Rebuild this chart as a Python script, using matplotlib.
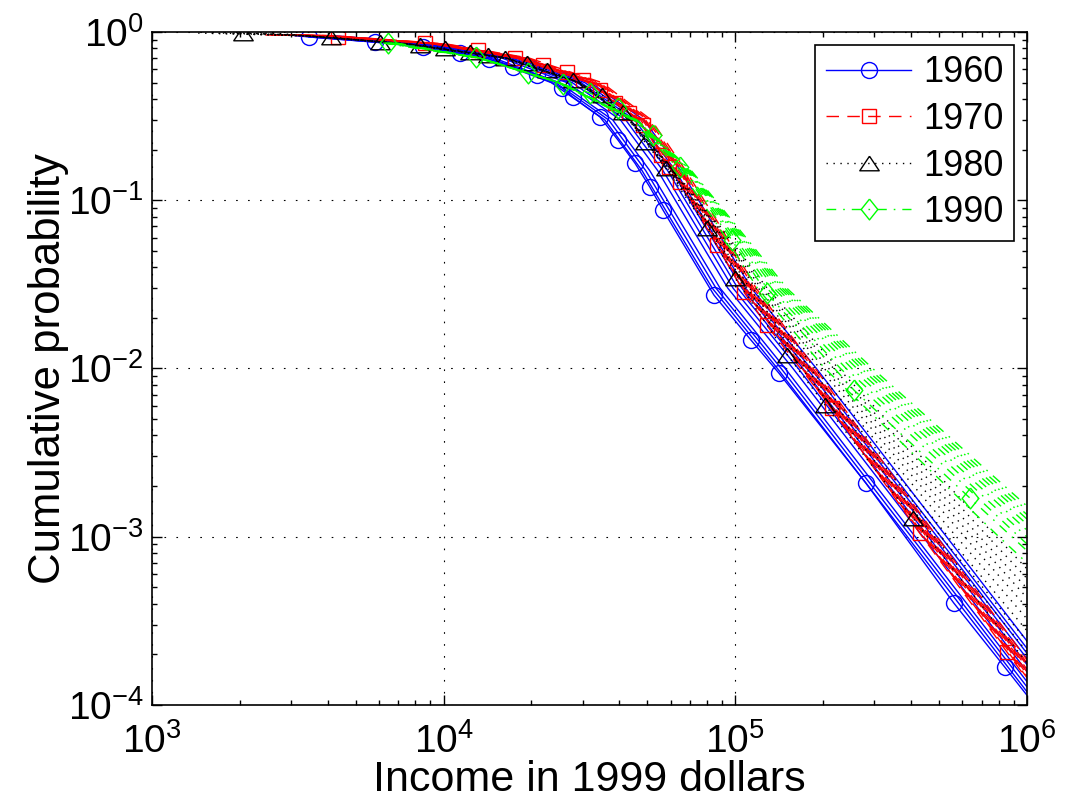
import matplotlib
matplotlib.use("Agg")
import matplotlib.pyplot as plt
from matplotlib.ticker import LogLocator, NullFormatter
import numpy as np

plt.rcParams['font.family'] = ['Liberation Sans', 'DejaVu Sans']
plt.rcParams['mathtext.fontset'] = 'custom'
plt.rcParams['mathtext.rm'] = 'Liberation Sans'
plt.rcParams['mathtext.it'] = 'Liberation Sans:italic'
plt.rcParams['mathtext.bf'] = 'Liberation Sans:bold'
plt.rcParams['lines.scale_dashes'] = False

# ---------------- data (incomes in thousands of 1999 dollars) ----------------
# marker curves (first year of each decade), read at the bracket points
x_1960 = [3.45, 5.81, 8.49, 11.37, 14.3, 17.3, 20.9, 25.44, 27.75, 34.33, 39.6, 45.3, 50.9,
          56.5, 84.5, 113, 141, 280, 561, 839, 1840]
p_1960 = [.934, .872, .814, .75, .69, .62, .555, .465, .41, .313, .228, .166, .12,
          .0875, .0273, .0148, .0094, .00209, 4.04e-4, 1.68e-4, 3e-5]

x_1970 = [4.34, 8.63, 13.12, 17.54, 21.88, 26.47, 30.08, 34.38, 38.66, 43.17, 48.22, 55.57,
          59.2, 64.5, 86.5, 107, 128, 214, 429, 853, 1930]
p_1970 = [.934, .86, .78, .70, .637, .578, .519, .452, .378, .330, .280, .186,
          .158, .128, .0542, .0285, .0181, .00582, .00105, 2.07e-4, 3e-5]

x_1980 = [2.05, 4.11, 6.05, 8.3, 10.09, 12.3, 14.2, 16.22, 19.3, 22.6, 27.75, 34.9, 41.2,
          48.97, 57.8, 80, 99.8, 151, 203, 406, 2250]
p_1980 = [.986, .934, .872, .837, .80, .76, .73, .70, .654, .596, .517, .422, .335,
          .222, .155, .0684, .0345, .012, .00607, .00129, 3e-5]

x_1990 = [6.44, 12.9, 19.45, 25.64, 31.76, 39.6, 52.2, 64.6, 97.3, 128, 255, 637, 3740]
p_1990 = [.86, .71, .571, .49, .434, .353, .244, .158, .058, .0281, .00745, .0017, 1e-4]

# remaining years: income at fixed cumulative-probability levels
levels_60 = [0.95, 0.85, 0.70, 0.50, 0.30, 0.15, 0.07, 0.03, 0.01, 1e-3, 1e-4, 3e-5]
inc_1961 = [3.09, 6.83, 14.00, 23.4, 35.7, 47.9, 62.2, 83.4, 139.4, 389, 1084, 1875]
inc_1962 = [3.18, 7.04, 14.43, 24.2, 36.8, 49.3, 64.1, 85.9, 143.6, 401, 1117, 1932]
inc_1963 = [3.28, 7.26, 14.89, 24.9, 38.0, 50.9, 66.2, 88.7, 148.3, 414, 1153, 1995]
inc_1964 = [3.49, 7.73, 15.84, 26.5, 40.4, 54.2, 70.4, 94.3, 157.7, 440, 1227, 2121]
inc_1965 = [3.64, 8.05, 16.52, 27.6, 42.1, 56.5, 73.4, 98.3, 164.4, 459, 1279, 2212]
inc_1966 = [3.78, 8.35, 17.13, 28.7, 43.7, 58.6, 76.2, 102.0, 170.6, 476, 1327, 2294]
inc_1967 = [3.90, 8.63, 17.70, 29.6, 45.2, 60.5, 78.7, 105.4, 176.2, 492, 1370, 2370]
inc_1968 = [4.02, 8.89, 18.23, 30.5, 46.5, 62.3, 81.0, 108.5, 181.5, 507, 1412, 2442]
inc_1969 = [4.20, 9.29, 19.06, 31.9, 48.6, 65.1, 84.7, 113.5, 189.7, 530, 1476, 2552]

levels_70 = [0.96, 0.95, 0.85, 0.70, 0.50, 0.30, 0.15, 0.07, 0.03, 0.01, 1e-3, 1e-4, 3e-5]
inc_1971 = [2.45, 3.80, 9.17, 17.72, 31.47, 46.49, 60.98, 80.1, 106.3, 169.6, 443, 1171, 1949]
inc_1972 = [2.55, 3.84, 9.26, 17.89, 31.78, 46.95, 61.59, 80.9, 107.3, 171.3, 447, 1182, 1969]
inc_1973 = [2.65, 3.87, 9.35, 18.07, 32.09, 47.41, 62.19, 81.7, 108.4, 172.9, 452, 1194, 1988]
inc_1974 = [2.75, 3.93, 9.49, 18.33, 32.56, 48.10, 63.10, 82.9, 109.9, 175.5, 458, 1211, 2017]
inc_1975 = [2.85, 3.99, 9.62, 18.59, 33.03, 48.79, 64.00, 84.1, 111.5, 178.0, 465, 1229, 2046]
inc_1976 = [2.95, 4.02, 9.72, 18.77, 33.34, 49.25, 64.61, 84.9, 112.6, 179.7, 469, 1240, 2065]
inc_1977 = [3.05, 4.08, 9.85, 19.03, 33.81, 49.94, 65.51, 86.0, 114.1, 182.2, 476, 1258, 2094]
inc_1978 = [3.15, 4.14, 9.99, 19.29, 34.28, 50.63, 66.42, 87.2, 115.7, 184.7, 483, 1275, 2123]
inc_1979 = [3.25, 4.21, 10.17, 19.64, 34.90, 51.55, 67.63, 88.8, 117.8, 188.0, 491, 1298, 2162]

levels_80 = [0.985, 0.95, 0.85, 0.70, 0.50, 0.30, 0.15, 0.07, 0.03, 0.01, 1e-3, 1e-4, 3e-5]
inc_1981 = [1.44, 3.30, 7.39, 16.24, 28.90, 43.20, 58.8, 80.2, 107.6, 169.1, 481.5, 1403, 2450]
inc_1982 = [1.60, 3.31, 7.40, 16.25, 28.95, 43.30, 59.1, 81.1, 109.7, 174.7, 508, 1515, 2669]
inc_1983 = [1.75, 3.32, 7.42, 16.27, 29.00, 43.40, 59.4, 82.0, 111.9, 180.4, 537, 1635, 2907]
inc_1984 = [1.90, 3.33, 7.44, 16.30, 29.07, 43.50, 59.7, 83.2, 114.7, 187.4, 573, 1793, 3220]
inc_1985 = [2.00, 3.34, 7.46, 16.32, 29.13, 43.60, 60.1, 84.3, 117.4, 194.8, 611, 1964, 3569]
inc_1986 = [2.15, 3.35, 7.48, 16.35, 29.19, 43.70, 60.4, 85.3, 120.0, 201.8, 649, 2136, 3922]
inc_1987 = [2.30, 3.36, 7.50, 16.37, 29.24, 43.80, 60.8, 86.4, 122.6, 209.2, 689, 2324, 4307]
inc_1988 = [2.45, 3.37, 7.52, 16.39, 29.30, 43.90, 61.1, 87.5, 125.5, 217.4, 735, 2548, 4772]
inc_1989 = [2.60, 3.38, 7.55, 16.41, 29.39, 44.06, 61.5, 88.7, 128.6, 225.9, 785, 2792, 5288]

levels_90 = [0.86, 0.70, 0.50, 0.30, 0.15, 0.07, 0.03, 0.01, 1e-3, 1e-4]
inc_1991 = [6.20, 13.10, 24.65, 44.46, 64.8, 87.5, 119.1, 202.9, 801, 3340]
inc_1992 = [6.30, 13.20, 24.76, 44.95, 66.6, 91.7, 128.5, 229.4, 940, 3994]
inc_1993 = [6.35, 13.25, 24.79, 45.13, 67.3, 93.4, 132.1, 239.9, 998, 4264]
inc_1994 = [6.50, 13.30, 24.84, 45.32, 68.1, 95.0, 135.8, 250.9, 1057, 4555]
inc_1995 = [6.55, 13.20, 24.89, 45.49, 68.7, 96.4, 139.1, 260.9, 1113, 4821]
inc_1996 = [6.60, 13.35, 24.92, 45.66, 69.3, 97.8, 142.3, 270.4, 1166, 5079]
inc_1997 = [6.70, 13.30, 24.94, 45.76, 69.7, 98.9, 144.9, 278.7, 1213, 5307]
inc_1998 = [6.80, 13.40, 24.97, 45.89, 70.2, 100.0, 147.5, 287.1, 1261, 5546]
inc_1999 = [6.90, 13.45, 25.02, 46.02, 70.7, 101.2, 150.3, 295.8, 1312, 5793]

decade_labels = ['1960', '1970', '1980', '1990']

# ---------------- styles ----------------
tri = [(0, 0.75), (-1, -0.75), (1, -0.75), (0, 0.75)]
dia = [(0, 1), (0.8, 0), (0, -1), (-0.8, 0), (0, 1)]
styles = {
    '1960': dict(color=(0, 0, 1), ls='-', marker='o', ms=11.5),
    '1970': dict(color=(1, 0, 0), ls=(0, (9, 6)), marker='s', ms=10),
    '1980': dict(color=(0, 0, 0), ls=(0, (1.0, 4.0)), marker=tri, ms=14),
    '1990': dict(color=(0, 1, 0), ls=(0, (7, 5, 1.2, 5)), marker=dia, ms=15),
}

groups = {
    '1960': (x_1960, p_1960, levels_60,
             [inc_1961, inc_1962, inc_1963, inc_1964, inc_1965, inc_1966, inc_1967, inc_1968, inc_1969]),
    '1970': (x_1970, p_1970, levels_70,
             [inc_1971, inc_1972, inc_1973, inc_1974, inc_1975, inc_1976, inc_1977, inc_1978, inc_1979]),
    '1980': (x_1980, p_1980, levels_80,
             [inc_1981, inc_1982, inc_1983, inc_1984, inc_1985, inc_1986, inc_1987, inc_1988, inc_1989]),
    '1990': (x_1990, p_1990, levels_90,
             [inc_1991, inc_1992, inc_1993, inc_1994, inc_1995, inc_1996, inc_1997, inc_1998, inc_1999]),
}

fig = plt.figure(figsize=(10.81, 8.08), dpi=100)
ax = fig.add_axes([0.1406, 0.1275, 0.8094, 0.8329])

LW = 1.0
handles = []
for lab in decade_labels:
    st = styles[lab]
    xm, pm, lev, rows = groups[lab]
    h, = ax.plot(np.array(xm) * 1e3, pm, color=st['color'], ls=st['ls'], lw=LW,
                 marker=st['marker'], ms=st['ms'], mfc='none', mec=st['color'], mew=1.0,
                 label=lab)
    handles.append(h)
    for r in rows:
        ax.plot(np.array(r) * 1e3, lev, color=st['color'], ls=st['ls'], lw=LW)

ax.set_xscale('log')
ax.set_yscale('log')
ax.set_xlim(1e3, 1e6)
ax.set_ylim(1e-4, 1)

ax.xaxis.set_major_locator(LogLocator(base=10, numticks=10))
ax.yaxis.set_major_locator(LogLocator(base=10, numticks=10))
ax.xaxis.set_minor_locator(LogLocator(base=10, subs=np.arange(2, 10), numticks=20))
ax.yaxis.set_minor_locator(LogLocator(base=10, subs=np.arange(2, 10), numticks=20))
ax.xaxis.set_minor_formatter(NullFormatter())
ax.yaxis.set_minor_formatter(NullFormatter())

ax.grid(True, which='major', color='k', lw=0.8, ls=(0, (1.2, 7.4)))
ax.tick_params(which='both', direction='in', top=True, right=True, width=1.0)
ax.tick_params(which='major', length=7, labelsize=28)
ax.tick_params(which='minor', length=3.5)
ax.tick_params(axis='x', which='major', pad=13)
ax.tick_params(axis='y', which='major', pad=6)
for sp in ax.spines.values():
    sp.set_linewidth(1.2)

ax.set_xlabel('Income in 1999 dollars', fontsize=31)
ax.set_ylabel('Cumulative probability', fontsize=31.5)
ax.xaxis.set_label_coords(0.5, -0.082)
ax.yaxis.set_label_coords(-0.095, 0.5)

leg = ax.legend(handles=handles, labels=decade_labels, loc='upper right', fontsize=26,
                frameon=True, fancybox=False, edgecolor='k', framealpha=1,
                handlelength=2.35, handletextpad=0.33, borderpad=0.3,
                labelspacing=0.32, borderaxespad=0.35, numpoints=1)
leg.get_frame().set_linewidth(1.2)

fig.savefig('out.png', dpi=100)
